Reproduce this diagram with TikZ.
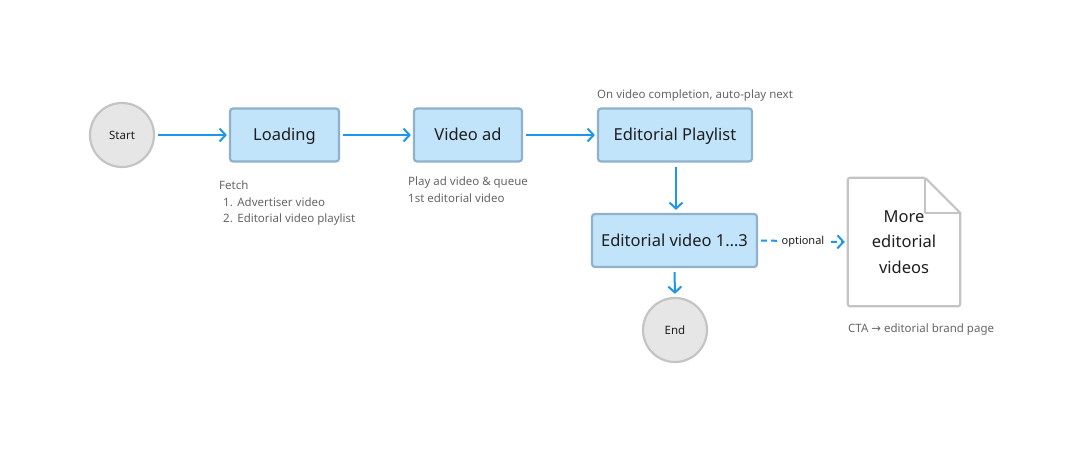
\documentclass[tikz,border=0pt]{standalone}
\usepackage{fontspec}
\setmainfont{Noto Sans}
\newfontfamily\arrowfont{DejaVu Sans}
\usetikzlibrary{arrows.meta}
\definecolor{boxfill}{HTML}{C1E4FB}
\definecolor{boxline}{HTML}{8FB1CB}
\definecolor{circfill}{HTML}{E6E6E6}
\definecolor{circline}{HTML}{C4C4C4}
\definecolor{flow}{HTML}{1E96F0}
\definecolor{ink}{HTML}{1F1F1F}
\definecolor{note}{HTML}{666666}
\tikzset{
  stepbox/.style={draw=boxline, fill=boxfill, line width=2.2pt, rounded corners=3pt,
    minimum height=53pt, inner sep=0pt, text=ink, text height=13.5pt, text depth=2pt,
    font=\fontsize{16.5}{20}\selectfont},
  term/.style={circle, draw=circline, fill=circfill, line width=2.2pt, minimum size=64pt,
    inner sep=0pt, text=ink, text height=9.5pt, text depth=1.5pt, font=\fontsize{11.5}{14}\selectfont},
  flowarrow/.style={draw=flow, line width=2pt, -{Straight Barb[length=6pt,width=13pt,line width=2pt]}},
  annot/.style={text=note, font=\fontsize{11.5}{16.5}\selectfont, inner sep=0pt, align=left},
}
\begin{document}
\begin{tikzpicture}[x=1pt,y=-1pt]
\useasboundingbox[fill=white] (0,0) rectangle (1080,453);
\node[term] (start) at (122,135) {Start};
\node[stepbox, minimum width=109pt] (load) at (284.5,135) {Loading};
\node[stepbox, minimum width=108pt] (ad) at (468,135) {Video ad};
\node[stepbox, minimum width=154pt] (pl) at (675,135) {Editorial Playlist};
\node[stepbox, minimum width=165pt] (ev) at (674.5,240.5) {Editorial video 1…3};
\node[term] (end) at (675,330) {End};
\node[minimum width=112pt, minimum height=128pt, inner sep=0pt, text=ink, align=center,
  font=\fontsize{16.5}{25.5}\selectfont] (doc) at (904,242) {More\\editorial\\videos};
\draw[draw=circline, line width=2.2pt, line join=round, rounded corners=2pt]
  (doc.south west) -- (doc.north west) -- ([xshift=-35pt]doc.north east)
  [sharp corners] -- ([yshift=-35pt]doc.north east) [rounded corners=2pt] -- (doc.south east) -- cycle;
\draw[draw=circline, line width=2.2pt, line join=round]
  ([xshift=-35pt]doc.north east) -- ([xshift=-35pt,yshift=-35pt]doc.north east) -- ([yshift=-35pt]doc.north east);

\draw[flowarrow] ([xshift=3pt]start.east) -- ([xshift=-2pt]load.west);
\draw[flowarrow] ([xshift=3pt]load.east) -- ([xshift=-2pt]ad.west);
\draw[flowarrow] ([xshift=3pt]ad.east) -- ([xshift=-2pt]pl.west);
\draw[flowarrow] ([xshift=1pt,yshift=-4pt]pl.south) -- ([xshift=1.5pt,yshift=3pt]ev.north);
\draw[flowarrow] ([yshift=-4pt]ev.south) -- ([yshift=3pt]end.north);
\draw[flowarrow, dash pattern=on 6pt off 4pt] ([xshift=3pt]ev.east) --
  node[fill=white, inner sep=4pt, text=ink, font=\fontsize{11}{13}\selectfont] (opt) {optional}
  ([xshift=-3pt]doc.west);

\node[annot, anchor=north west] (fetch) at (219,181) {Fetch\\\hspace*{4pt}1.\hspace*{4.5pt}Advertiser video\\\hspace*{4pt}2.\hspace*{4.5pt}Editorial video playlist};
\node[annot, anchor=north west] (play) at (408,177) {Play ad video \& queue\\1st editorial video};
\node[annot, anchor=north west] (auto) at (597,90) {On video completion, auto-play next};
\node[annot, anchor=north west] (cta) at (848,324) {CTA {\arrowfont →} editorial brand page};
\end{tikzpicture}
\end{document}
